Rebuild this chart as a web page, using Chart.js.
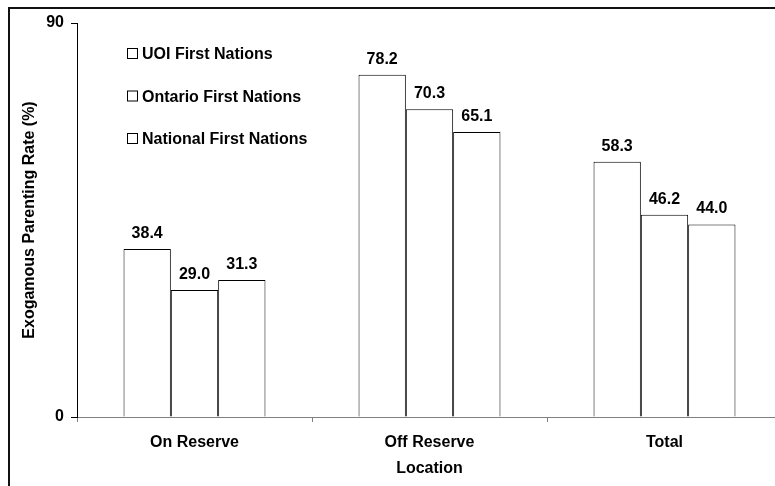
<!DOCTYPE html>
<html>
<head>
<meta charset="utf-8">
<script src="https://cdn.jsdelivr.net/npm/chart.js@4/dist/chart.umd.min.js"></script>
<style>
  html, body { margin: 0; padding: 0; background: #fff; overflow: hidden; }
  #wrap { position: absolute; left: 0; top: 0; width: 800px; height: 486px; }
</style>
</head>
<body>
<div id="wrap"><canvas id="myChart" width="800" height="486"></canvas></div>
<script>
// chart values
var locations = ["On Reserve", "Off Reserve", "Total"];
var seriesNames = ["UOI First Nations", "Ontario First Nations", "National First Nations"];
var uoi = [38.4, 78.2, 58.3];
var ontario = [29.0, 70.3, 46.2];
var national = [31.3, 65.1, 44.0];
var yTicks = [0, 90];

var fontFamily = "'Liberation Sans', Arial, sans-serif";
var boldFont = "bold 16px " + fontFamily;

// value labels above each bar
var barLabels = {
  id : "barLabels",
  afterDatasetsDraw : function (chart) {
    var ctx = chart.ctx;
    ctx.save();
    ctx.font = boldFont;
    ctx.fillStyle = "#000";
    ctx.textAlign = "center";
    ctx.textBaseline = "alphabetic";
    chart.data.datasets.forEach(function (ds, i) {
      chart.getDatasetMeta(i).data.forEach(function (bar, j) {
        ctx.fillText(ds.data[j].toFixed(1), bar.x, bar.y - 11);
      });
    });
    ctx.restore();
  }
};

// legend inside the plot, plus the frame lines
var insideLegend = {
  id : "insideLegend",
  afterDraw : function (chart) {
    var ctx = chart.ctx;
    ctx.save();
    ctx.font = boldFont;
    ctx.fillStyle = "#000";
    ctx.strokeStyle = "#000";
    ctx.lineWidth = 1;
    ctx.textBaseline = "middle";
    chart.data.datasets.forEach(function (ds, i) {
      var y = 54 + i * 42.5;
      ctx.strokeRect(127.5, y - 5.5, 10, 10);
      ctx.fillText(ds.label, 142, y + 1);
    });
    // frame (left and top edges)
    ctx.strokeStyle = "#111";
    ctx.lineWidth = 2;
    ctx.beginPath();
    ctx.moveTo(9, 486);
    ctx.lineTo(9, 8);
    ctx.lineTo(800, 8);
    ctx.stroke();
    ctx.restore();
  }
};

var ctx = document.getElementById("myChart");

var data = {
  labels : locations,
  datasets : [
    { label : seriesNames[0], data : uoi },
    { label : seriesNames[1], data : ontario },
    { label : seriesNames[2], data : national }
  ].map(function (d) {
    d.backgroundColor = "#fff";
    d.borderColor = "#000";
    d.borderWidth = 1;
    d.categoryPercentage = 0.604;
    d.barPercentage = 1;
    return d;
  })
};

var options = {
  responsive : false,
  animation : false,
  layout : { padding : { left : 0, top : 23, right : 18, bottom : 0 } },
  plugins : {
    legend : { display : false },
    tooltip : { enabled : false }
  },
  scales : {
    x : {
      grid : {
        display : true,
        drawOnChartArea : false,
        drawTicks : true,
        tickLength : 5,
        tickColor : "#808080",
        offset : true
      },
      border : { display : true, color : "#808080", width : 1 },
      ticks : {
        color : "#000",
        font : { family : fontFamily, size : 16, weight : "bold" },
        padding : 11,
        maxRotation : 0
      },
      title : {
        display : true,
        text : "Location",
        color : "#000",
        font : { family : fontFamily, size : 16, weight : "bold" },
        padding : { top : 4, bottom : 8 }
      },
      afterFit : function (scale) { scale.height = 69; }
    },
    y : {
      min : 0,
      max : 90,
      afterBuildTicks : function (scale) {
        scale.ticks = yTicks.map(function (v) { return { value : v }; });
      },
      grid : {
        display : true,
        drawOnChartArea : false,
        drawTicks : true,
        tickLength : 6,
        tickColor : "#000"
      },
      border : { display : true, color : "#000", width : 1 },
      ticks : {
        color : "#000",
        font : { family : fontFamily, size : 16, weight : "bold" },
        padding : 7
      },
      title : {
        display : true,
        text : "Exogamous Parenting Rate (%)",
        color : "#000",
        font : { family : fontFamily, size : 16, weight : "bold" },
        padding : { top : 20, bottom : 0 }
      },
      afterFit : function (scale) { scale.width = 77; }
    }
  }
};

var chart = new Chart(ctx, {
  type : "bar",
  data : data,
  options : options,
  plugins : [barLabels, insideLegend]
});
</script>
</body>
</html>
